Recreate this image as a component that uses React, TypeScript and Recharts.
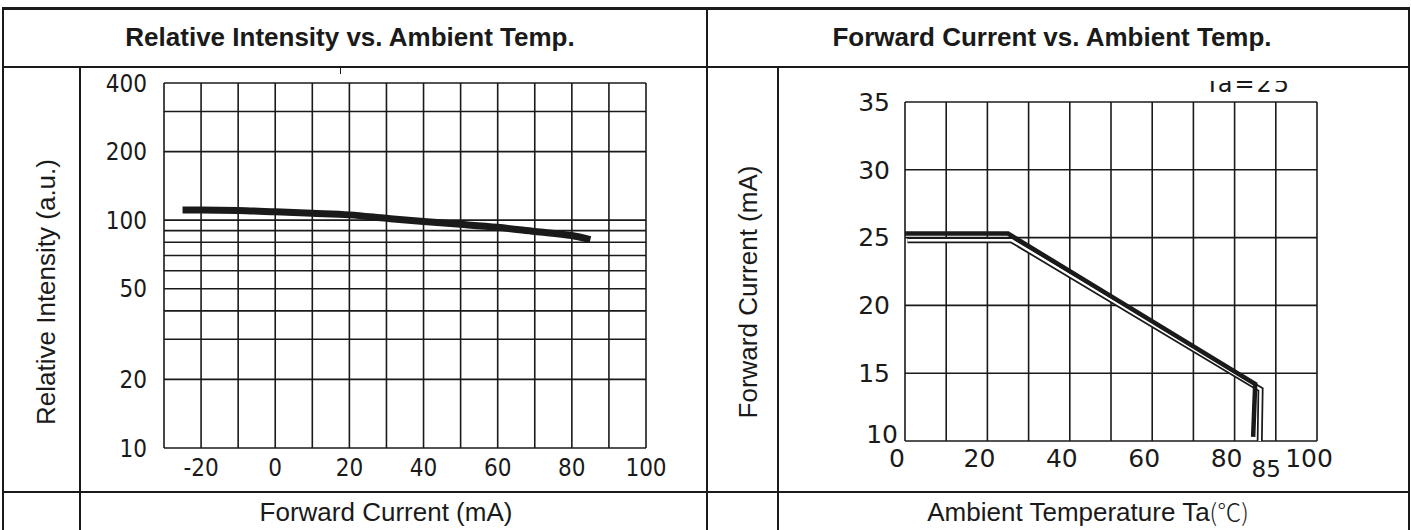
import { LineChart, Line, XAxis, YAxis, CartesianGrid } from "recharts";

// Relative intensity vs ambient temp (left panel)
const intensityTemps = [-25, -20, -10, 0, 10, 20, 30, 40, 50, 60, 70, 80, 85];
const intensityValues = [110.7, 110.8, 110.3, 108.8, 107.2, 105.5, 101.9, 98.6, 95.9, 93.0, 89.2, 85.6, 82.2];
const intensityTicksX = [-20, 0, 20, 40, 60, 80, 100];
const intensityGridX = [-30, -20, -10, 0, 10, 20, 30, 40, 50, 60, 70, 80, 90, 100];
const intensityTicksY = [10, 20, 50, 100, 200, 400];
const intensityGridY = [10, 20, 30, 40, 50, 60, 70, 80, 90, 100, 200, 300, 400];

// Forward current derating (right panel)
const deratingTemps = [0, 25, 85, 84.5];
const deratingCurrent = [25.3, 25.3, 14.2, 10.3];
const outlineTemps = [0.6, 25.9, 86.3, 86.1];
const outlineCurrent = [24.8, 24.8, 13.8, 10];
const currentTicksX = [0, 20, 40, 60, 80, 85, 100];
const currentGridX = [0, 10, 20, 30, 40, 50, 60, 70, 80, 90, 100];
const currentTicksY = [10, 15, 20, 25, 30, 35];

const intensityData = intensityTemps.map((t, i) => ({ t, v: intensityValues[i] }));
const deratingData = deratingTemps.map((t, i) => ({ t, v: deratingCurrent[i] }));
const outlineData = outlineTemps.map((t, i) => ({ t, v: outlineCurrent[i] }));

const INK = "#1a1a1a";
const SANS = 'Arial, "Liberation Sans", sans-serif';
const NARROW = '"DejaVu Sans Condensed", "Liberation Sans Narrow", sans-serif';
const WIDE = '"DejaVu Sans", sans-serif';

const line = (left: number, top: number, width: number, height: number) => (
  <div style={{ position: "absolute", left, top, width, height, background: INK }} />
);

const RightXTick = (props: any) => {
  const { x, y, payload } = props;
  const low = payload.value === 85;
  return (
    <text
      x={x + (low ? 11 : -8)}
      y={y + (low ? 12 : 0)}
      dy="0.71em"
      textAnchor="middle"
      fill={INK}
      fontSize={low ? 23 : 25}
      fontFamily={WIDE}
    >
      {payload.value}
    </text>
  );
};

const RightYTick = (props: any) => {
  const { x, y, payload } = props;
  const bottom = payload.value === 10;
  return (
    <text
      x={x + (bottom ? 8 : 0)}
      y={y + (bottom ? -7 : 0)}
      dy="0.355em"
      textAnchor="end"
      fill={INK}
      fontSize={25}
      fontFamily={WIDE}
    >
      {payload.value}
    </text>
  );
};

const cellText = {
  position: "absolute" as const,
  transform: "translateX(-50%)",
  whiteSpace: "nowrap" as const,
  fontSize: 26,
  lineHeight: "30px",
};

export default function App() {
  return (
    <div
      style={{
        position: "absolute",
        left: 0,
        top: 0,
        width: 1411,
        height: 530,
        background: "#fff",
        overflow: "hidden",
        fontFamily: SANS,
        color: INK,
      }}
    >
      {/* table frame */}
      {line(2, 7, 1407, 2.5)}
      {line(2, 65.5, 1407, 2)}
      {line(2, 490.5, 1407, 2.5)}
      {line(1.5, 7, 2, 523)}
      {line(1407.5, 7, 2, 523)}
      {line(706, 7, 2, 523)}
      {line(79, 66, 2, 464)}
      {line(777, 66, 2, 464)}

      {/* titles */}
      <div style={{ ...cellText, left: 350, top: 21.5, fontWeight: 700 }}>
        Relative Intensity vs. Ambient Temp.
      </div>
      <div style={{ ...cellText, left: 1052, top: 21.5, fontWeight: 700 }}>
        Forward Current vs. Ambient Temp.
      </div>

      {/* axis titles */}
      <div style={{ ...cellText, left: 46, top: 292, transform: "translate(-50%,-50%) rotate(-90deg)" }}>
        Relative Intensity (a.u.)
      </div>
      <div style={{ ...cellText, left: 748, top: 292, transform: "translate(-50%,-50%) rotate(-90deg)" }}>
        Forward Current (mA)
      </div>
      <div style={{ ...cellText, left: 386, top: 497 }}>
        Forward Current (mA)
      </div>
      <div style={{ ...cellText, left: 1088, top: 497 }}>
        Ambient Temperature Ta
        <span style={{ fontFamily: '"Noto Sans CJK SC", serif', fontWeight: 300, fontSize: 24, lineHeight: "20px" }}>(℃)</span>
      </div>

      {/* clipped remnants from the original drawing */}
      {line(339.5, 67, 1.5, 7)}
      <div style={{ position: "absolute", left: 1205, top: 81, width: 110, height: 11, overflow: "hidden" }}>
        <div style={{ marginTop: -9, fontSize: 24, lineHeight: "24px", fontFamily: WIDE, letterSpacing: 2, whiteSpace: "nowrap" }}>Ta=25</div>
      </div>

      {/* left chart */}
      <div style={{ position: "absolute", left: 80, top: 68 }}>
        <LineChart width={627} height={422} margin={{ top: 15, right: 61, bottom: 12, left: 0 }}>
          <CartesianGrid
            stroke={INK}
            strokeWidth={1.6}
            horizontalValues={intensityGridY}
            verticalValues={intensityGridX}
          />
          <XAxis
            type="number"
            dataKey="t"
            domain={[-30, 100]}
            ticks={intensityTicksX}
            interval={0}
            axisLine={false}
            tickLine={false}
            tickMargin={5}
            height={30}
            tick={{ fill: INK, fontSize: 24, fontFamily: NARROW }}
          />
          <YAxis
            type="number"
            scale="log"
            domain={[10, 400]}
            ticks={intensityTicksY}
            interval={0}
            allowDataOverflow
            axisLine={false}
            tickLine={false}
            tickMargin={11}
            width={84}
            tick={{ fill: INK, fontSize: 24, fontFamily: NARROW }}
          />
          <Line
            data={intensityData}
            dataKey="v"
            type="monotone"
            stroke={INK}
            strokeWidth={7}
            dot={false}
            isAnimationActive={false}
          />
        </LineChart>
      </div>

      {/* right chart */}
      <div style={{ position: "absolute", left: 778, top: 68 }}>
        <LineChart width={633} height={422} margin={{ top: 34, right: 94, bottom: 19, left: 0 }}>
          <CartesianGrid
            stroke={INK}
            strokeWidth={1.6}
            horizontalValues={currentTicksY}
            verticalValues={currentGridX}
          />
          <XAxis
            type="number"
            dataKey="t"
            domain={[0, 100]}
            ticks={currentTicksX}
            interval={0}
            allowDataOverflow
            axisLine={false}
            tickLine={false}
            height={30}
            tick={<RightXTick />}
          />
          <YAxis
            type="number"
            domain={[10, 35]}
            ticks={currentTicksY}
            interval={0}
            allowDataOverflow
            axisLine={false}
            tickLine={false}
            tickMargin={9}
            width={127}
            tick={<RightYTick />}
          />
          <Line
            data={outlineData}
            dataKey="v"
            type="linear"
            stroke={INK}
            strokeWidth={6}
            strokeLinejoin="miter"
            dot={false}
            isAnimationActive={false}
          />
          <Line
            data={outlineData}
            dataKey="v"
            type="linear"
            stroke="#fff"
            strokeWidth={2.5}
            strokeLinejoin="miter"
            dot={false}
            isAnimationActive={false}
          />
          <Line
            data={deratingData}
            dataKey="v"
            type="linear"
            stroke={INK}
            strokeWidth={4.5}
            strokeLinejoin="miter"
            dot={false}
            isAnimationActive={false}
          />
        </LineChart>
      </div>
    </div>
  );
}
